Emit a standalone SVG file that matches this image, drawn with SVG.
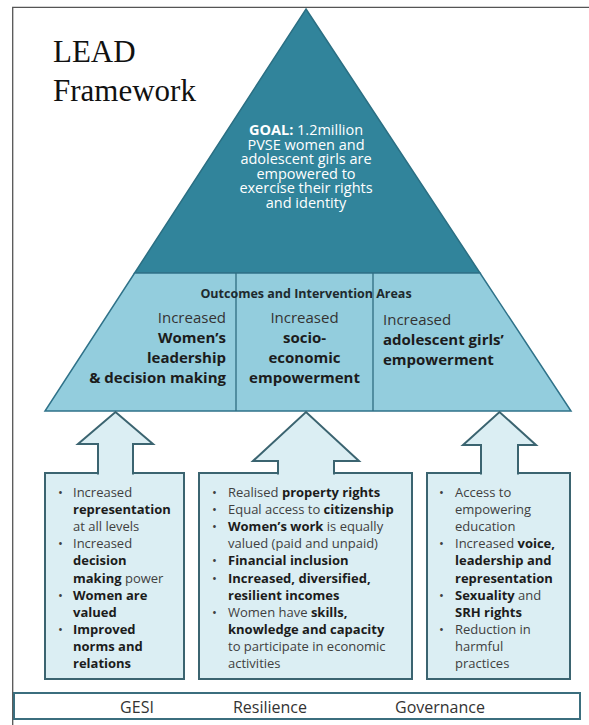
<svg xmlns="http://www.w3.org/2000/svg" width="589" height="725" viewBox="0 0 589 725">
<style>
.frame{fill:none;stroke:#555;stroke-width:1.3}
.goalTri{fill:#31849B;stroke:#2B6F83;stroke-width:1.5}
.band{fill:#93CDDD;stroke:#2F7289;stroke-width:1.5}
.div{stroke:#2F6C80;stroke-width:1.3}
.box{fill:#DBEEF3;stroke:#3B6470;stroke-width:2}
.arrow{fill:#DBEEF3;stroke:#3B6470;stroke-width:2;stroke-linejoin:miter}
.bar{fill:#fff;stroke:#3B6E7E;stroke-width:2}
.title{font-family:"Liberation Serif",serif;font-size:31px;fill:#111}
.goal{font-family:"Open Sans","Liberation Sans",sans-serif;font-size:14.5px;fill:#fff;text-anchor:middle}
.hdr{font-family:"Open Sans","Liberation Sans",sans-serif;font-size:12.5px;font-weight:bold;fill:#1e2a2e;text-anchor:middle}
.col{font-family:"Open Sans","Liberation Sans",sans-serif;font-size:15px;fill:#333}
.bx{font-family:"Open Sans","Liberation Sans",sans-serif;font-size:13px;fill:#404040}
.ft{font-family:"Open Sans","Liberation Sans",sans-serif;font-size:16px;fill:#333;text-anchor:middle}
.b{font-weight:bold;fill:#1c1c1c}
</style>

<path class="frame" d="M12.7,725 V7.3 H589"/>

<g id="title">
<text class="title" x="53" y="62">LEAD</text>
<text class="title" x="53" y="101">Framework</text>
</g>

<g id="goal">
<polygon class="goalTri" points="306,9 480,273 134.6,273"/>
<text class="goal" x="306" y="135"><tspan font-weight="bold">GOAL:</tspan> 1.2million</text>
<text class="goal" x="306" y="149.5">PVSE women and</text>
<text class="goal" x="306" y="164">adolescent girls are</text>
<text class="goal" x="306" y="178.5">empowered to</text>
<text class="goal" x="306" y="193">exercise their rights</text>
<text class="goal" x="306" y="207.5">and identity</text>
</g>

<g id="outcomes">
<polygon class="band" points="134.6,273 480,273 571,411 45,411"/>
<line class="div" x1="236" y1="273" x2="236" y2="411"/>
<line class="div" x1="373" y1="273" x2="373" y2="411"/>
<text class="hdr" x="306" y="298">Outcomes and Intervention Areas</text>
</g>

<g id="outcome-leadership">
<text class="col" x="226" y="323" text-anchor="end">Increased</text>
<text class="col b" x="226" y="343" text-anchor="end">Women’s</text>
<text class="col b" x="226" y="363" text-anchor="end">leadership</text>
<text class="col b" x="226" y="383" text-anchor="end">&amp; decision making</text>
</g>

<g id="outcome-socioeconomic">
<text class="col" x="304.5" y="323" text-anchor="middle">Increased</text>
<text class="col b" x="304.5" y="343" text-anchor="middle">socio-</text>
<text class="col b" x="304.5" y="363" text-anchor="middle">economic</text>
<text class="col b" x="304.5" y="383" text-anchor="middle">empowerment</text>
</g>

<g id="outcome-girls">
<text class="col" x="383" y="325">Increased</text>
<text class="col b" x="383" y="345">adolescent girls’</text>
<text class="col b" x="383" y="365">empowerment</text>
</g>

<g id="box-gesi">
<rect class="box" x="45" y="473" width="139" height="206"/>
<g class="bx">
<text x="58" y="497">•</text><text x="73" y="497">Increased</text>
<text x="73" y="514.1" class="b">representation</text>
<text x="73" y="531.2">at all levels</text>
<text x="58" y="548.3">•</text><text x="73" y="548.3">Increased</text>
<text x="73" y="565.4" class="b">decision</text>
<text x="73" y="582.5"><tspan class="b">making</tspan> power</text>
<text x="58" y="599.6">•</text><text x="73" y="599.6" class="b">Women are</text>
<text x="73" y="616.7" class="b">valued</text>
<text x="58" y="633.8">•</text><text x="73" y="633.8" class="b">Improved</text>
<text x="73" y="650.9" class="b">norms and</text>
<text x="73" y="668" class="b">relations</text>
</g>
</g>

<g id="box-resilience">
<rect class="box" x="199" y="473" width="213" height="206"/>
<g class="bx">
<text x="212" y="497">•</text><text x="228" y="497">Realised <tspan class="b">property rights</tspan></text>
<text x="212" y="514.1">•</text><text x="228" y="514.1">Equal access to <tspan class="b">citizenship</tspan></text>
<text x="212" y="531.2">•</text><text x="228" y="531.2"><tspan class="b">Women’s work</tspan> is equally</text>
<text x="228" y="548.3">valued (paid and unpaid)</text>
<text x="212" y="565.4">•</text><text x="228" y="565.4" class="b">Financial inclusion</text>
<text x="212" y="582.5">•</text><text x="228" y="582.5" class="b">Increased, diversified,</text>
<text x="228" y="599.6" class="b">resilient incomes</text>
<text x="212" y="616.7">•</text><text x="228" y="616.7">Women have <tspan class="b">skills,</tspan></text>
<text x="228" y="633.8" class="b">knowledge and capacity</text>
<text x="228" y="650.9">to participate in economic</text>
<text x="228" y="668">activities</text>
</g>
</g>

<g id="box-governance">
<rect class="box" x="427" y="473" width="143" height="206"/>
<g class="bx">
<text x="439" y="497">•</text><text x="455" y="497">Access to</text>
<text x="455" y="514.1">empowering</text>
<text x="455" y="531.2">education</text>
<text x="439" y="548.3">•</text><text x="455" y="548.3">Increased <tspan class="b">voice,</tspan></text>
<text x="455" y="565.4" class="b">leadership and</text>
<text x="455" y="582.5" class="b">representation</text>
<text x="439" y="599.6">•</text><text x="455" y="599.6"><tspan class="b">Sexuality</tspan> and</text>
<text x="455" y="616.7" class="b">SRH rights</text>
<text x="439" y="633.8">•</text><text x="455" y="633.8">Reduction in</text>
<text x="455" y="650.9">harmful</text>
<text x="455" y="668">practices</text>
</g>
</g>

<g id="connectors">
<path class="arrow" d="M98,474.5 V444 H78 L115.5,412 L153,444 H133 V474.5"/>
<path class="arrow" d="M278,474.5 V461 H253 L306,412 L359,461 H334 V474.5"/>
<path class="arrow" d="M481,474.5 V445 H463 L499.5,412 L536,445 H518 V474.5"/>
</g>

<g id="cross-cutting">
<rect class="bar" x="14" y="693" width="566" height="26"/>
<text class="ft" x="137" y="713">GESI</text>
<text class="ft" x="270" y="713">Resilience</text>
<text class="ft" x="440" y="713">Governance</text>
</g>
</svg>
